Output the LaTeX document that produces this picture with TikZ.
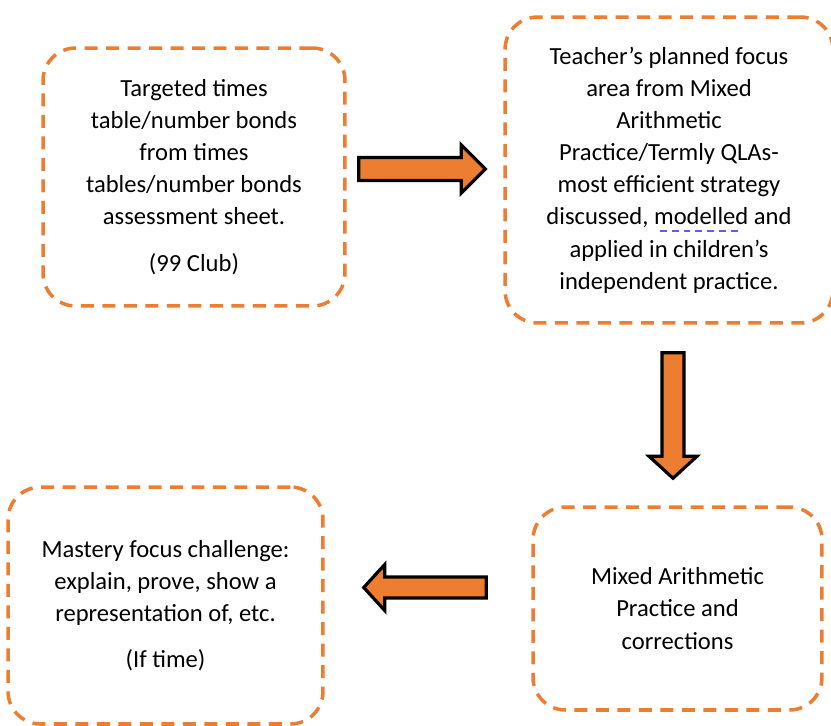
\documentclass[tikz,border=0pt]{standalone}
\usepackage{fontspec}
\setmainfont{Carlito}
\usepackage{tikz}
\usetikzlibrary{calc}
\definecolor{accent}{RGB}{237,125,49}
\definecolor{spellblue}{RGB}{95,95,230}
% dotted blue underline under a word
\newsavebox{\spellbox}
\newcommand{\spellmark}[1]{\sbox{\spellbox}{#1}%
\rlap{\raisebox{-0.3em}{\textcolor{spellblue}{\hbox to \wd\spellbox{\cleaders\hbox{\rule{0.28em}{0.09em}\kern0.2em}\hfill}}}}%
\usebox{\spellbox}}
\tikzstyle{stage}=[rectangle,rounded corners=0.65cm,draw=accent,line width=2pt,
dash pattern=on 0.26cm off 0.17cm,align=center,inner sep=0pt,font=\fontsize{14}{18.3}\selectfont]
\tikzstyle{blockarrow}=[draw=black,line width=1.8pt,fill=accent,line join=miter]

\begin{document}
\begin{tikzpicture}[x=0.02cm,y=-0.02cm]
        \useasboundingbox (0,0) rectangle (831,725);

        \node (target) [stage,minimum width=6.04cm,minimum height=5.16cm] at (194,177)
            {Targeted times\\ table/number bonds\\ from times\\ tables/number bonds\\ assessment sheet.\\[8.5pt] (99 Club)};
        \node (focus) [stage,minimum width=6.56cm,minimum height=6.12cm] at (669,170)
            {Teacher’s planned focus\\ area from Mixed\\ Arithmetic\\ Practice/Termly QLAs-\\ most efficient strategy\\ discussed, \spellmark{modelled} and\\ applied in children’s\\ independent practice.};
        \node (mixed) [stage,minimum width=5.78cm,minimum height=4.06cm] at (677.5,608.5)
            {Mixed Arithmetic\\ Practice and\\ corrections};
        \node (mastery) [stage,minimum width=6.3cm,minimum height=4.74cm] at (165.5,605.5)
            {Mastery focus challenge:\\ explain, prove, show a\\ representation of, etc.\\[8pt] (If time)};

        % ends of the block arrows
        \coordinate (r1) at ($(target.east)+(12,-8)$);
        \coordinate (r2) at ($(focus.west)+(-18,-1)$);
        \coordinate (d1) at ($(focus.south)+(4,28)$);
        \coordinate (d2) at ($(mixed.north)+(-4.5,-27)$);
        \coordinate (l1) at ($(mixed.west)+(-45,-21)$);
        \coordinate (l2) at ($(mastery.east)+(39,-18)$);

        \draw [blockarrow] ($(r1)+(0,-11.5)$) -- ($(r2)+(-24,-11.5)$) -- ($(r2)+(-24,-24)$) -- (r2)
            -- ($(r2)+(-24,24)$) -- ($(r2)+(-24,11.5)$) -- ($(r1)+(0,11.5)$) -- cycle;
        \draw [blockarrow] ($(d1)+(-11,0)$) -- ($(d2)+(-11,-22)$) -- ($(d2)+(-24,-22)$) -- (d2)
            -- ($(d2)+(24,-22)$) -- ($(d2)+(11,-22)$) -- ($(d1)+(11,0)$) -- cycle;
        \draw [blockarrow] ($(l1)+(0,-10.5)$) -- ($(l2)+(21,-10.5)$) -- ($(l2)+(21,-23)$) -- (l2)
            -- ($(l2)+(21,23)$) -- ($(l2)+(21,10.5)$) -- ($(l1)+(0,10.5)$) -- cycle;

    \end{tikzpicture}
\end{document}
